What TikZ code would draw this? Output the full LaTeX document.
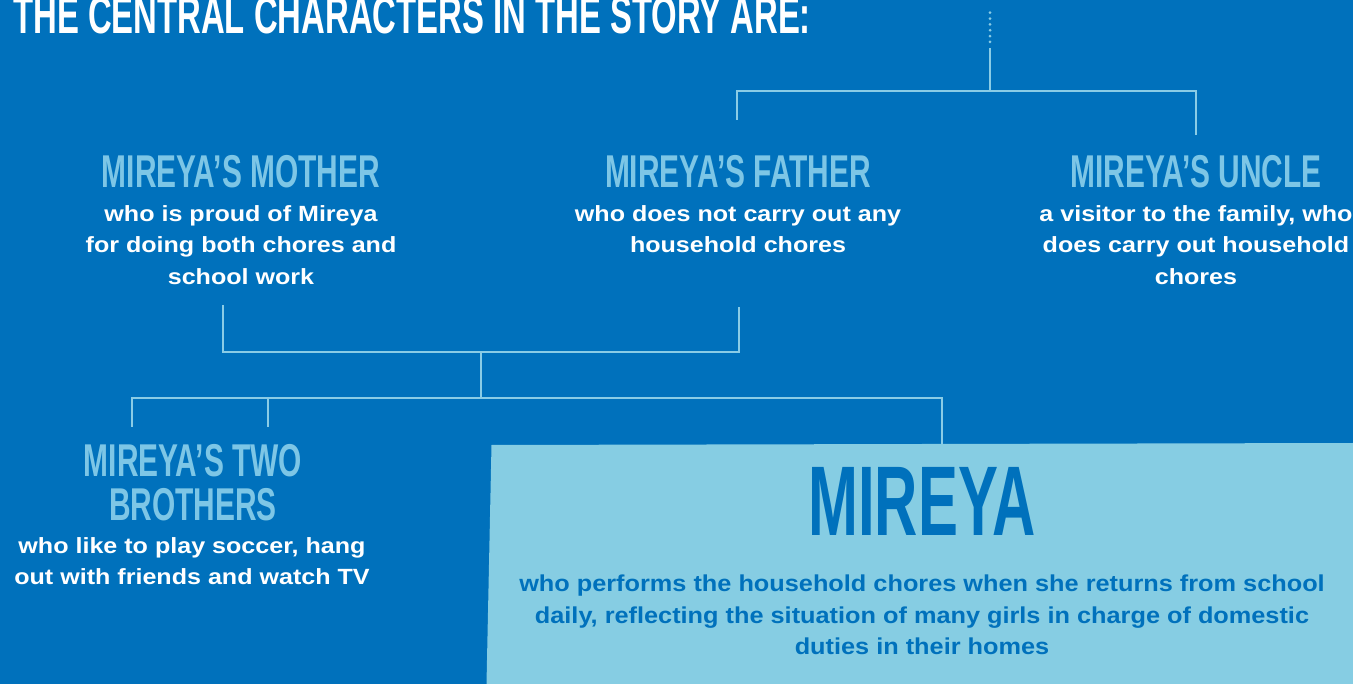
\documentclass[tikz,border=0pt]{standalone}
\usepackage{fontspec}
\setmainfont{Liberation Sans}
\newfontfamily\titlefont{Liberation Sans}[FakeStretch=0.62]
\newfontfamily\headfont{Liberation Sans}[FakeStretch=0.65]
\newfontfamily\namefont{Liberation Sans}[FakeStretch=0.605]
\newfontfamily\bodyfont{Liberation Sans}[FakeStretch=1.14]
\newfontfamily\boxfont{Liberation Sans}[FakeStretch=1.1]
\definecolor{bgblue}{RGB}{0,113,188}
\definecolor{paleblue}{RGB}{134,205,227}
\definecolor{lineblue}{RGB}{138,204,230}
\definecolor{headblue}{RGB}{125,198,230}
\begin{document}
\begin{tikzpicture}[x=1pt,y=-1pt]
            \tikzset{Heading/.style={%
                    anchor=base,%
                    text=headblue,%
                    inner sep=0pt,%
                    align=center,%
                    font={\headfont\bfseries\fontsize{46}{44}\selectfont},%
                },
                Body/.style={%
                    anchor=base,%
                    text=white,%
                    inner sep=0pt,%
                    align=center,%
                    font={\bodyfont\bfseries\fontsize{22}{31.5}\selectfont},%
                },
                Link/.style={%
                    draw=lineblue,%
                    line width=2.5pt,%
                }}

                \useasboundingbox (0,0) rectangle (1353,684);
                \clip (0,0) rectangle (1353,684);
                \fill[bgblue] (0,0) rectangle (1353,684);
                \fill[paleblue] (491.5,445) -- (1353,443) -- (1353,684) -- (486.5,684) -- cycle;

                % last line of each text sits on the given baseline
                \node[anchor=base west, inner sep=0pt, text=white,
                    font={\titlefont\bfseries\fontsize{53}{53}\selectfont}] (title) at (13,34)
                    {THE CENTRAL CHARACTERS IN THE STORY ARE:};

                \node[Heading] (mother) at (241,188) {MIREYA’S MOTHER};
                \node[Body] (motherText) at (241,284.5) {who is proud of Mireya\\for doing both chores and\\school work};
                \node[Heading] (father) at (738,188) {MIREYA’S FATHER};
                \node[Body] (fatherText) at (738,253) {who does not carry out any\\household chores};
                \node[Heading] (uncle) at (1196,188) {MIREYA’S UNCLE};
                \node[Body] (uncleText) at (1196,284.5) {a visitor to the family, who\\does carry out household\\chores};
                \node[Heading] (brothers) at (193,521) {MIREYA’S TWO\\BROTHERS};
                \node[Body] (brothersText) at (192,584.5) {who like to play soccer, hang\\out with friends and watch TV};
                \node[Heading, text=bgblue, font={\namefont\bfseries\fontsize{99}{99}\selectfont}] (mireya) at (922,536) {MIREYA};
                \node[Body, text=bgblue, font={\boxfont\bfseries\fontsize{23}{31.7}\selectfont}] (mireyaText) at (922,654.9)
                    {who performs the household chores when she returns from school\\daily, reflecting the situation of many girls in charge of domestic\\duties in their homes};

                \coordinate (dotTop) at (990,12.7);
                \coordinate (dotEnd) at (990,42);
                \coordinate (stem) at (990,48);
                \coordinate (fork) at (990,91);
                \coordinate (fatherUp) at (737,120);
                \coordinate (uncleUp) at (1196,135);
                \coordinate (motherDown) at (223,305);
                \coordinate (fatherDown) at (739,307);
                \coordinate (parents) at (481,352);
                \coordinate (kids) at (481,398);
                \coordinate (brotherA) at (132,427);
                \coordinate (brotherB) at (268,427);
                \coordinate (mireyaUp) at (942,444);

                \path[Link, line width=3pt, line cap=round, dash pattern=on 0pt off 5.85pt] (dotTop) -- (dotEnd);
                \path[Link] (stem) -- (fork);
                \path[Link] (fatherUp) -- (fatherUp |- fork) -- (uncleUp |- fork) -- (uncleUp);
                \path[Link] (motherDown) -- (motherDown |- parents) -- (fatherDown |- parents) -- (fatherDown);
                \path[Link] (parents) -- (kids);
                \path[Link] (brotherA) -- (brotherA |- kids) -- (mireyaUp |- kids) -- (mireyaUp);
                \path[Link] (brotherB) -- (brotherB |- kids);
        \end{tikzpicture}
\end{document}
